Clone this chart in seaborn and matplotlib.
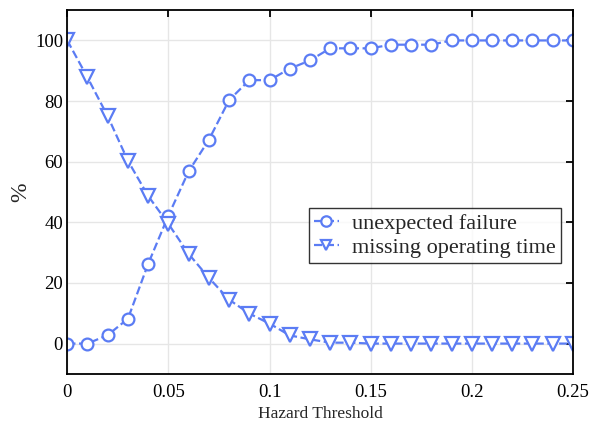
import numpy as np
import pandas as pd
import seaborn as sns
import matplotlib.pyplot as plt
from matplotlib.ticker import FuncFormatter

# data
threshold = np.round(np.arange(0, 0.2501, 0.01), 2)
unexpected_failure = [0, 0, 2.8, 8.2, 26.3, 42.2, 56.8, 67.2, 80.3, 86.9, 86.9, 90.7, 93.4,
                      97.4, 97.4, 97.4, 98.6, 98.6, 98.6, 100, 100, 100, 100, 100, 100, 100]
missing_operating_time = [100, 87.8, 75, 60.3, 48.7, 39.5, 29.6, 21.7, 14.5, 9.9, 6.6, 2.7, 1.4,
                          0.3, 0.3, 0, 0, 0, 0, 0, 0, 0, 0, 0, 0, 0]

df = pd.DataFrame({'threshold': threshold,
                   'unexpected failure': unexpected_failure,
                   'missing operating time': missing_operating_time})

sns.set_style('white')
plt.rcParams['font.family'] = ['Liberation Serif', 'DejaVu Serif']

blue = '#5b7cf4'
fig, ax = plt.subplots(figsize=(5.9, 4.22), dpi=100)
fig.subplots_adjust(left=0.114, right=0.971, top=0.976, bottom=0.114)

sns.lineplot(data=df, x='threshold', y='unexpected failure', ax=ax, color=blue,
             linestyle='--', linewidth=1.6, marker='o', markersize=8.5,
             markerfacecolor='white', markeredgecolor=blue, markeredgewidth=1.6,
             label='unexpected failure')
sns.lineplot(data=df, x='threshold', y='missing operating time', ax=ax, color=blue,
             linestyle='--', linewidth=1.6, marker='v', markersize=9.5,
             markerfacecolor='white', markeredgecolor=blue, markeredgewidth=1.6,
             label='missing operating time')

ax.set_xlim(0, 0.25)
ax.set_ylim(-10, 110)
ax.set_xticks([0, 0.05, 0.1, 0.15, 0.2, 0.25])
ax.set_yticks([0, 20, 40, 60, 80, 100])
ax.xaxis.set_major_formatter(FuncFormatter(lambda v, p: '%g' % v))
ax.grid(True, color='#e6e6e6', linewidth=1)
ax.set_axisbelow(True)
for s in ax.spines.values():
    s.set_color('black')
    s.set_linewidth(1.3)
ax.tick_params(direction='in', length=5, width=1.3, top=True, right=True,
               labelsize=13.5, colors='black')
ax.tick_params(axis='y', pad=3)
ax.tick_params(axis='x', pad=7)
ax.set_xlabel('Hazard Threshold', fontsize=12.5, labelpad=4)
ax.set_ylabel('%', fontsize=17, labelpad=3)

leg = ax.legend(loc='center right', bbox_to_anchor=(0.977, 0.38), fontsize=16,
                frameon=True, fancybox=False, edgecolor='black', handlelength=1.1,
                handletextpad=0.6, borderpad=0.25, labelspacing=0.15, borderaxespad=0)
leg.get_frame().set_linewidth(1.0)
for h in leg.legend_handles:
    h.set_markersize(7.5)

fig.savefig('out.png', dpi=100)
